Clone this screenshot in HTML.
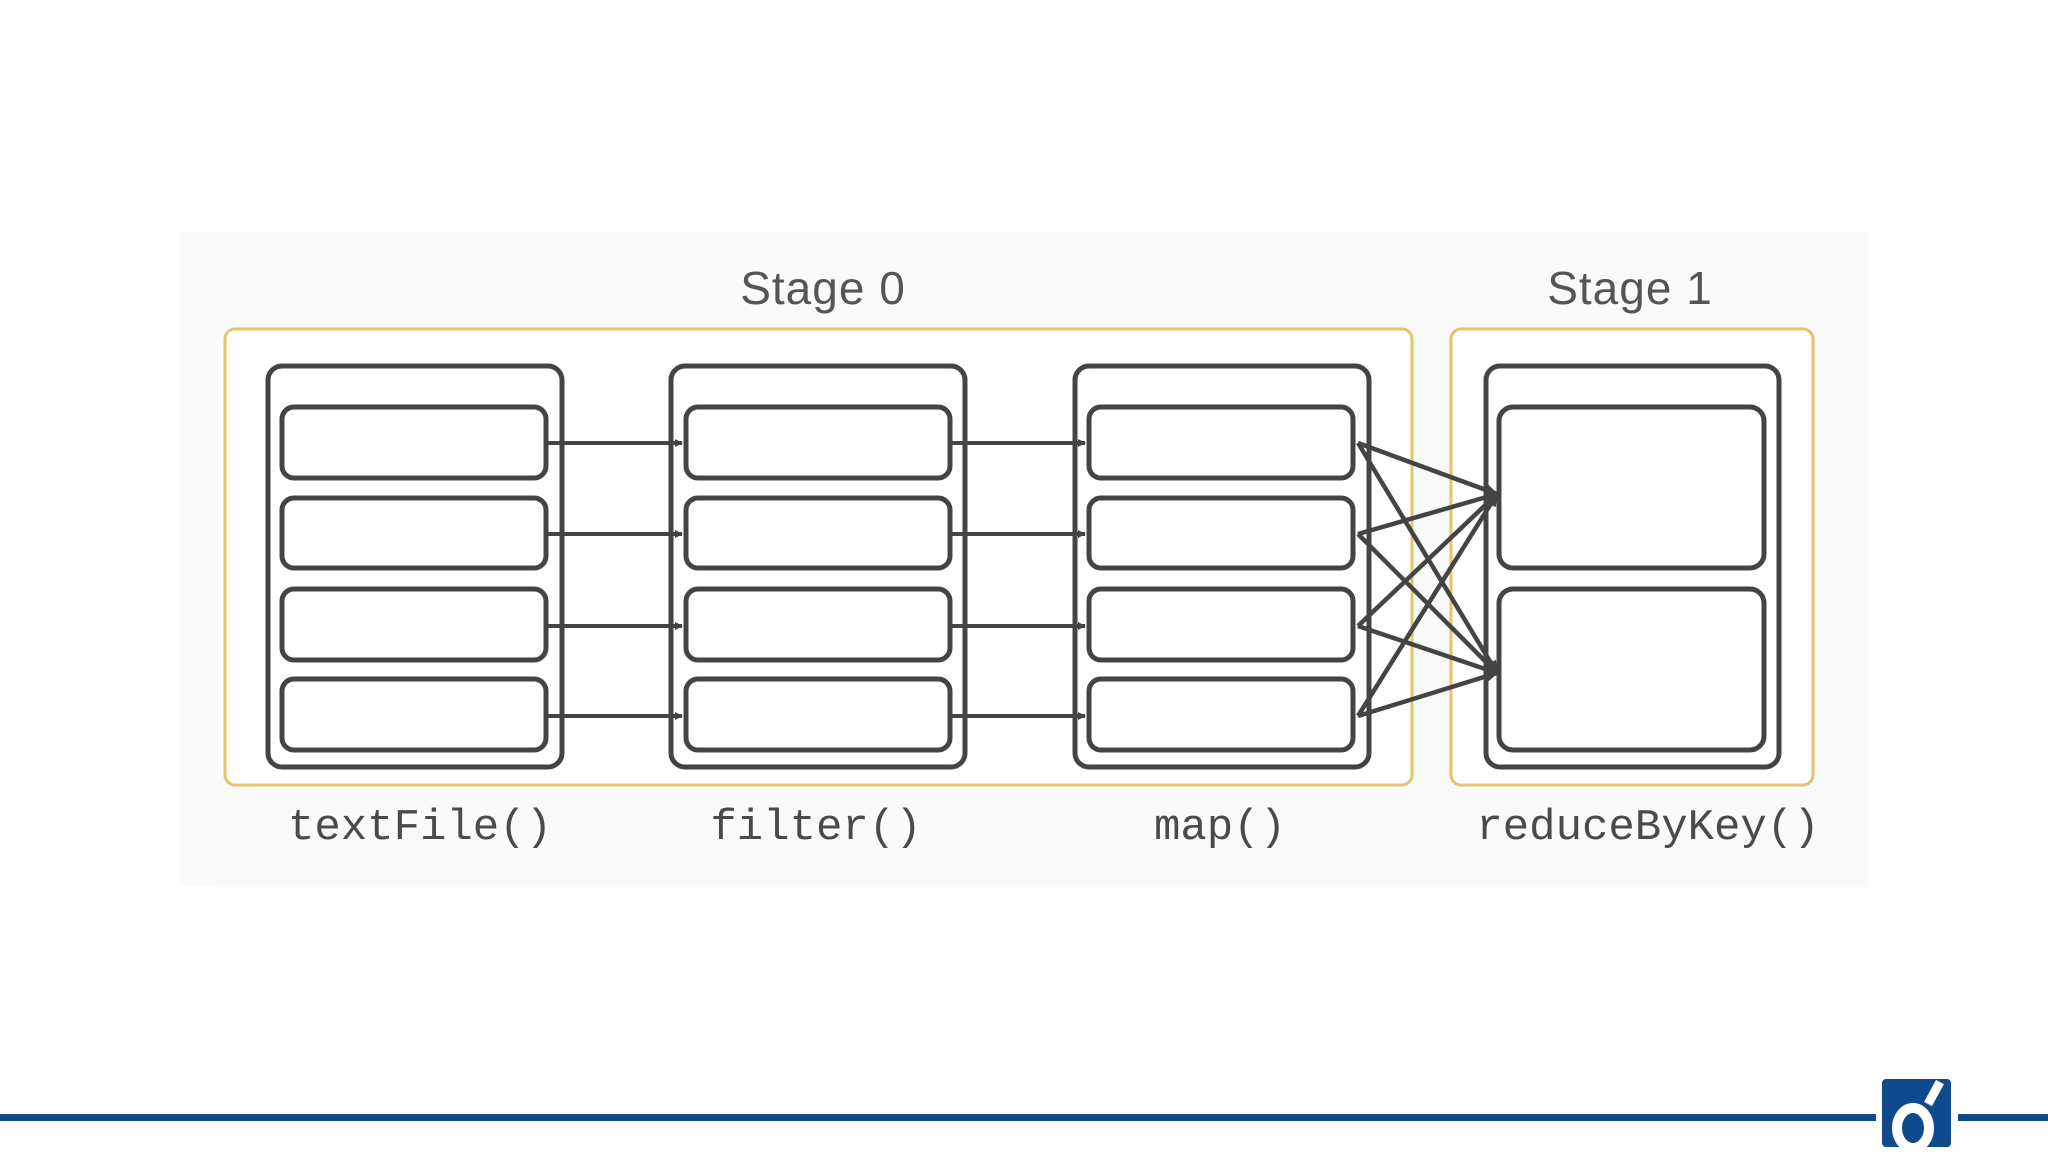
<!DOCTYPE html>
<html><head><meta charset="utf-8"><style>
html,body{margin:0;padding:0;background:#fff;}
body{width:2048px;height:1152px;overflow:hidden;position:relative;}
</style></head><body>
<svg width="2048" height="1152" viewBox="0 0 2048 1152" xmlns="http://www.w3.org/2000/svg">
<defs>
<marker id="ah" markerWidth="8" markerHeight="8" refX="7" refY="4" orient="auto" markerUnits="userSpaceOnUse"><path d="M0,0 L8,4 L0,8 z" fill="#444"/></marker>
<marker id="ah2" markerWidth="14" markerHeight="12" refX="12" refY="6" orient="auto" markerUnits="userSpaceOnUse"><path d="M0,0 L14,6 L0,12 z" fill="#444"/></marker>
</defs>
<rect x="180" y="232" width="1688" height="654" fill="#fafafa"/>
<rect x="210" y="886" width="1670" height="210" fill="#fdfdfd"/>
<g font-family="Liberation Sans, sans-serif" font-size="46" fill="#555" text-anchor="middle" letter-spacing="1">
<text x="823" y="304">Stage 0</text>
<text x="1630" y="304">Stage 1</text>
</g>
<rect x="225" y="329" width="1187" height="456" rx="10" fill="#fff" stroke="#e6c46e" stroke-width="3"/>
<rect x="1451" y="329" width="362" height="456" rx="10" fill="#fff" stroke="#e6c46e" stroke-width="3"/>
<g fill="none" stroke="#444" stroke-width="5">
<rect x="268" y="366" width="294" height="401" rx="14"/>
<rect x="671" y="366" width="294" height="401" rx="14"/>
<rect x="1075" y="366" width="294" height="401" rx="14"/>
<rect x="1486" y="366" width="293" height="401" rx="14"/>
<g>
<rect x="282" y="407" width="264" height="71" rx="12"/><rect x="282" y="498" width="264" height="70" rx="12"/><rect x="282" y="589" width="264" height="71" rx="12"/><rect x="282" y="679" width="264" height="71" rx="12"/>
<rect x="686" y="407" width="264" height="71" rx="12"/><rect x="686" y="498" width="264" height="70" rx="12"/><rect x="686" y="589" width="264" height="71" rx="12"/><rect x="686" y="679" width="264" height="71" rx="12"/>
<rect x="1089" y="407" width="264" height="71" rx="12"/><rect x="1089" y="498" width="264" height="70" rx="12"/><rect x="1089" y="589" width="264" height="71" rx="12"/><rect x="1089" y="679" width="264" height="71" rx="12"/>
<rect x="1499" y="407" width="265" height="161" rx="14"/><rect x="1499" y="589" width="265" height="161" rx="14"/>
</g>
</g>
<g stroke="#444" stroke-width="4" marker-end="url(#ah)">
<line x1="548" y1="443" x2="682" y2="443"/><line x1="548" y1="534" x2="682" y2="534"/><line x1="548" y1="626" x2="682" y2="626"/><line x1="548" y1="716" x2="682" y2="716"/>
<line x1="952" y1="443" x2="1085" y2="443"/><line x1="952" y1="534" x2="1085" y2="534"/><line x1="952" y1="626" x2="1085" y2="626"/><line x1="952" y1="716" x2="1085" y2="716"/>
</g>
<g stroke="#444" stroke-width="4.5" marker-end="url(#ah2)">
<line x1="1358" y1="443" x2="1497" y2="494"/><line x1="1358" y1="534" x2="1497" y2="494"/><line x1="1358" y1="626" x2="1497" y2="494"/><line x1="1358" y1="716" x2="1497" y2="494"/>
<line x1="1358" y1="443" x2="1497" y2="673"/><line x1="1358" y1="534" x2="1497" y2="673"/><line x1="1358" y1="626" x2="1497" y2="673"/><line x1="1358" y1="716" x2="1497" y2="673"/>
</g>
<g font-family="Liberation Mono, monospace" font-size="44" fill="#4a4a4a" text-anchor="middle">
<text x="420" y="839">textFile()</text>
<text x="816" y="839">filter()</text>
<text x="1220" y="839">map()</text>
<text x="1648" y="839">reduceByKey()</text>
</g>
<rect x="0" y="1114" width="1876" height="7" fill="#0e4a8c"/>
<rect x="1958" y="1114" width="90" height="7" fill="#0e4a8c"/>
<rect x="1882" y="1079" width="69" height="68" rx="4" fill="#0e4a8c"/>
<ellipse cx="1913" cy="1128" rx="16" ry="20" fill="none" stroke="#fff" stroke-width="10"/>
<line x1="1928" y1="1104" x2="1940" y2="1082" stroke="#fff" stroke-width="9"/>
</svg>
</body></html>
